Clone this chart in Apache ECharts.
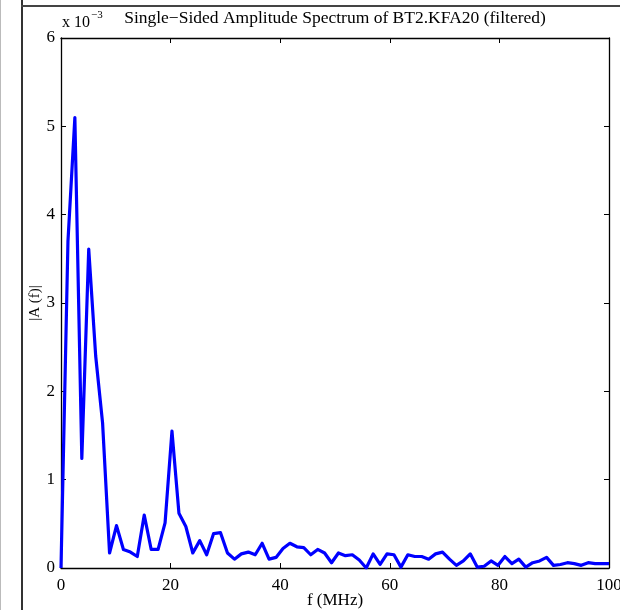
<!DOCTYPE html>
<html>
<head>
<meta charset="utf-8">
<script src="https://cdn.jsdelivr.net/npm/echarts@6/dist/echarts.min.js"></script>
<style>
  html, body { margin: 0; padding: 0; background: #fff; overflow: hidden; }
  #chart { width: 620px; height: 610px; }
</style>
</head>
<body>
<div id="chart"></div>
<script>
// FFT bin frequencies (MHz)
const freqMHz = [
  0, 1.27, 2.53, 3.80, 5.06, 6.33, 7.59, 8.86, 10.13, 11.39,
  12.66, 13.92, 15.19, 16.46, 17.72, 18.99, 20.25, 21.52, 22.78, 24.05,
  25.32, 26.58, 27.85, 29.11, 30.38, 31.65, 32.91, 34.18, 35.44, 36.71,
  37.97, 39.24, 40.51, 41.77, 43.04, 44.30, 45.57, 46.84, 48.10, 49.37,
  50.63, 51.90, 53.16, 54.43, 55.70, 56.96, 58.23, 59.49, 60.76, 62.03,
  63.29, 64.56, 65.82, 67.09, 68.35, 69.62, 70.89, 72.15, 73.42, 74.68,
  75.95, 77.22, 78.48, 79.75, 81.01, 82.28, 83.54, 84.81, 86.08, 87.34,
  88.61, 89.87, 91.14, 92.41, 93.67, 94.94, 96.20, 97.47, 98.73, 100
];

// Single-sided amplitude |A(f)|, in units of 1e-3
const amplitude = [
  0.00, 3.70, 5.10, 1.24, 3.61, 2.40, 1.64, 0.17, 0.48, 0.21,
  0.18, 0.13, 0.60, 0.21, 0.21, 0.51, 1.55, 0.62, 0.47, 0.17,
  0.31, 0.15, 0.39, 0.40, 0.17, 0.10, 0.16, 0.18, 0.15, 0.28,
  0.10, 0.12, 0.22, 0.28, 0.24, 0.23, 0.15, 0.21, 0.17, 0.06,
  0.17, 0.14, 0.15, 0.09, 0.00, 0.16, 0.04, 0.16, 0.15, 0.01,
  0.15, 0.13, 0.13, 0.10, 0.16, 0.18, 0.10, 0.03, 0.08, 0.16,
  0.01, 0.02, 0.08, 0.03, 0.13, 0.05, 0.10, 0.01, 0.06, 0.08,
  0.12, 0.03, 0.04, 0.06, 0.05, 0.03, 0.06, 0.05, 0.05, 0.05
];

const xTicks = [0, 20, 40, 60, 80, 100];
const yTicks = [0, 1, 2, 3, 4, 5, 6];

const FONT = '"Liberation Serif", "DejaVu Serif", serif';
const grid = { left: 61, top: 38, width: 548, height: 530 };

const chart = echarts.init(document.getElementById('chart'), null, { renderer: 'canvas' });

const tickStyle = { show: true, inside: true, length: 5, lineStyle: { color: '#000', width: 1 } };
const lineStyle = { show: true, onZero: false, lineStyle: { color: '#000', width: 1.3 } };

chart.setOption({
  animation: false,
  backgroundColor: '#fff',
  grid: Object.assign({ containLabel: false, outerBoundsMode: 'none' }, grid),
  xAxis: [
    {
      type: 'value', position: 'bottom',
      min: xTicks[0], max: xTicks[xTicks.length - 1], interval: 20,
      axisLine: lineStyle, axisTick: tickStyle, splitLine: { show: false },
      axisLabel: { color: '#000', fontFamily: FONT, fontSize: 17, margin: 9 },
      name: 'f (MHz)', nameLocation: 'middle', nameGap: 24, nameMoveOverlap: false,
      nameTextStyle: { color: '#000', fontFamily: FONT, fontSize: 17 }
    },
    {
      type: 'value', position: 'top',
      min: xTicks[0], max: xTicks[xTicks.length - 1], interval: 20,
      axisLine: lineStyle, axisTick: tickStyle, splitLine: { show: false },
      axisLabel: { show: false }
    }
  ],
  yAxis: [
    {
      type: 'value', position: 'left',
      min: yTicks[0], max: yTicks[yTicks.length - 1], interval: 1,
      axisLine: lineStyle, axisTick: tickStyle, splitLine: { show: false },
      axisLabel: { color: '#000', fontFamily: FONT, fontSize: 17, margin: 6 },
      name: '|A (f)|', nameLocation: 'middle', nameGap: 18, nameRotate: 90, nameMoveOverlap: false,
      nameTextStyle: { color: '#000', fontFamily: FONT, fontSize: 15 }
    },
    {
      type: 'value', position: 'right',
      min: yTicks[0], max: yTicks[yTicks.length - 1], interval: 1,
      axisLine: lineStyle, axisTick: tickStyle, splitLine: { show: false },
      axisLabel: { show: false }
    }
  ],
  series: [
    {
      type: 'line',
      xAxisIndex: 0, yAxisIndex: 0,
      data: freqMHz.map((f, i) => [f, amplitude[i]]),
      showSymbol: false,
      lineStyle: { color: '#0000ff', width: 3.2, join: 'round' },
      itemStyle: { color: '#0000ff' },
      clip: true
    }
  ],
  graphic: [
    // page frame lines
    { type: 'rect', shape: { x: 0, y: 0, width: 1, height: 610 }, style: { fill: '#bbb' }, silent: true },
    { type: 'rect', shape: { x: 21, y: 0, width: 2, height: 610 }, style: { fill: '#333' }, silent: true },
    { type: 'rect', shape: { x: 21, y: 5, width: 599, height: 2 }, style: { fill: '#444' }, silent: true },
    // title
    {
      type: 'text', x: 335, y: 18,
      style: {
        text: 'Single\u2212Sided Amplitude Spectrum of BT2.KFA20 (filtered)',
        textAlign: 'center', textVerticalAlign: 'middle',
        font: '17.5px ' + FONT, fill: '#000'
      }
    },
    // axis exponent
    {
      type: 'text', x: 62, y: 20,
      style: {
        text: '{b|x 10}{s|\u22123}',
        rich: {
          b: { font: '16px ' + FONT, fill: '#000', verticalAlign: 'bottom' },
          s: { font: '11px ' + FONT, fill: '#000', verticalAlign: 'top', padding: [0, 0, 10, 1] }
        },
        textVerticalAlign: 'middle', fill: '#000'
      }
    }
  ]
});
</script>
</body>
</html>
